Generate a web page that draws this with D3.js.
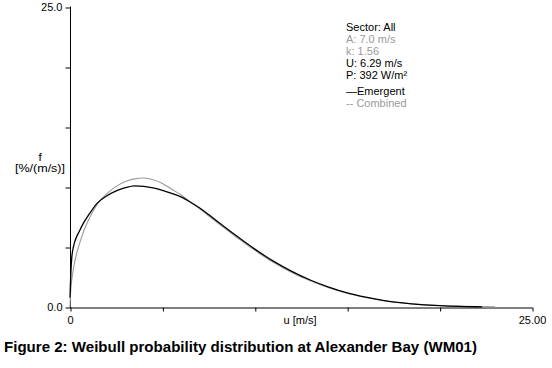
<!DOCTYPE html>
<html>
<head>
<meta charset="utf-8">
<script src="https://cdn.jsdelivr.net/npm/d3@7"></script>
<style>
  html, body { margin: 0; padding: 0; background: #fff; }
  svg { display: block; }
  text { font-family: "Liberation Sans", Arial, sans-serif; }
</style>
</head>
<body>
<svg id="chart" width="552" height="368"></svg>
<script>
// ---- data ----
const combinedU = [0, 0.02, 0.1, 0.2, 0.35, 0.5, 0.75, 1, 1.5, 2, 2.5, 3, 3.5, 4, 4.5, 5, 5.5, 6, 6.5, 7, 7.5, 8, 9, 10, 11, 12, 13, 14, 15, 16, 17, 18, 19, 20, 21, 22, 23];
const combinedF = [0, 0.8, 2.3, 3.3, 4.4, 5.2, 6.35, 7.25, 8.6, 9.45, 10.05, 10.45, 10.68, 10.75, 10.6, 10.3, 9.82, 9.35, 8.77, 8.2, 7.6, 7.0, 5.82, 4.72, 3.72, 2.88, 2.18, 1.6, 1.14, 0.79, 0.52, 0.33, 0.2, 0.12, 0.07, 0.035, 0.015];
const emergentU = [0, 0.02, 0.05, 0.1, 0.15, 0.25, 0.5, 0.75, 1, 1.5, 2, 2.5, 3, 3.5, 4, 4.5, 5, 5.5, 6, 6.5, 7, 7.5, 8, 9, 10, 11, 12, 13, 14, 15, 16, 17, 18, 19, 20, 21, 22, 22.3];
const emergentF = [0.8, 1.8, 3.0, 4.2, 4.75, 5.4, 6.3, 7.05, 7.65, 8.7, 9.27, 9.68, 9.95, 10.1, 10.05, 9.92, 9.72, 9.47, 9.17, 8.75, 8.27, 7.7, 7.1, 5.93, 4.82, 3.82, 2.97, 2.25, 1.66, 1.18, 0.82, 0.54, 0.34, 0.2, 0.11, 0.05, 0.02, 0];
const xTicks = [0, 5, 10, 15, 20, 25];
const yTicks = [0, 5, 10, 15, 20, 25];
const xTickLabels = ["0", "", "", "", "", "25.00"];
const yTickLabels = ["0.0", "", "", "", "", "25.0"];
const legendLines = [
  { text: "Sector: All", grey: false },
  { text: "A: 7.0 m/s", grey: true },
  { text: "k: 1.56", grey: true },
  { text: "U: 6.29 m/s", grey: false },
  { text: "P: 392 W/m\u00b2", grey: false },
  { text: "\u2014Emergent", grey: false },
  { text: "-- Combined", grey: true }
];
const titleText = "Figure 2: Weibull probability distribution at Alexander Bay (WM01)";

// ---- layout ----
const svg = d3.select("#chart");
const x = d3.scaleLinear().domain([0, 25]).range([70, 532]);
const y = d3.scaleLinear().domain([0, 25]).range([307, 7]);
const grey = "#9a9a9a";

// axes
const yAxis = d3.axisLeft(y).tickValues(yTicks).tickSize(5).tickSizeOuter(0)
  .tickFormat((d, i) => yTickLabels[i]);
const gy = svg.append("g").attr("transform", "translate(70.5,0)").call(yAxis);
gy.select(".domain").attr("stroke", "#000").attr("d", "M0,6.5V308");
gy.selectAll(".tick line").attr("stroke", "#000").attr("transform", "translate(0,0.5)");
gy.selectAll(".tick text").attr("x", -8).attr("font-size", "11px")
  .attr("font-family", "Liberation Sans, Arial, sans-serif").attr("fill", "#000");

const xAxis = d3.axisBottom(x).tickValues(xTicks).tickSize(4).tickSizeOuter(0)
  .tickFormat((d, i) => xTickLabels[i]);
const gx = svg.append("g").attr("transform", "translate(0,307.5)").call(xAxis);
gx.select(".domain").attr("stroke", "#000");
gx.selectAll(".tick line").attr("stroke", "#000").attr("transform", "translate(0.5,0)");
gx.selectAll(".tick text").attr("y", 9).attr("font-size", "11px")
  .attr("font-family", "Liberation Sans, Arial, sans-serif").attr("fill", "#000");

// axis titles
svg.append("text").attr("x", 40).attr("y", 160.5).attr("text-anchor", "middle")
  .attr("font-size", "11.5px").text("f");
svg.append("text").attr("x", 40).attr("y", 171.5).attr("text-anchor", "middle")
  .attr("font-size", "11.5px").attr("textLength", 50).attr("lengthAdjust", "spacingAndGlyphs")
  .text("[%/(m/s)]");
svg.append("text").attr("x", 300).attr("y", 323.5).attr("text-anchor", "middle")
  .attr("font-size", "11px").text("u [m/s]");

// curves
const line = d3.line().x(d => x(d[0])).y(d => y(d[1])).curve(d3.curveMonotoneX);
svg.append("path")
  .datum(combinedU.map((u, i) => [u, combinedF[i]]))
  .attr("d", line).attr("fill", "none").attr("stroke", grey).attr("stroke-width", 1.1);
svg.append("path")
  .datum(emergentU.map((u, i) => [u, emergentF[i]]))
  .attr("d", line).attr("fill", "none").attr("stroke", "#000").attr("stroke-width", 1.3);

// legend
const legendY = [31, 43, 55, 67, 79, 95, 107];
svg.append("g").selectAll("text").data(legendLines).join("text")
  .attr("x", 346).attr("y", (d, i) => legendY[i])
  .attr("font-size", "11px")
  .attr("fill", d => d.grey ? grey : "#000")
  .text(d => d.text);

// caption
svg.append("text").attr("x", 4).attr("y", 352)
  .attr("font-size", "14.5px").attr("font-weight", "bold").attr("fill", "#000")
  .attr("textLength", 473).attr("lengthAdjust", "spacingAndGlyphs")
  .text(titleText);
</script>
</body>
</html>
